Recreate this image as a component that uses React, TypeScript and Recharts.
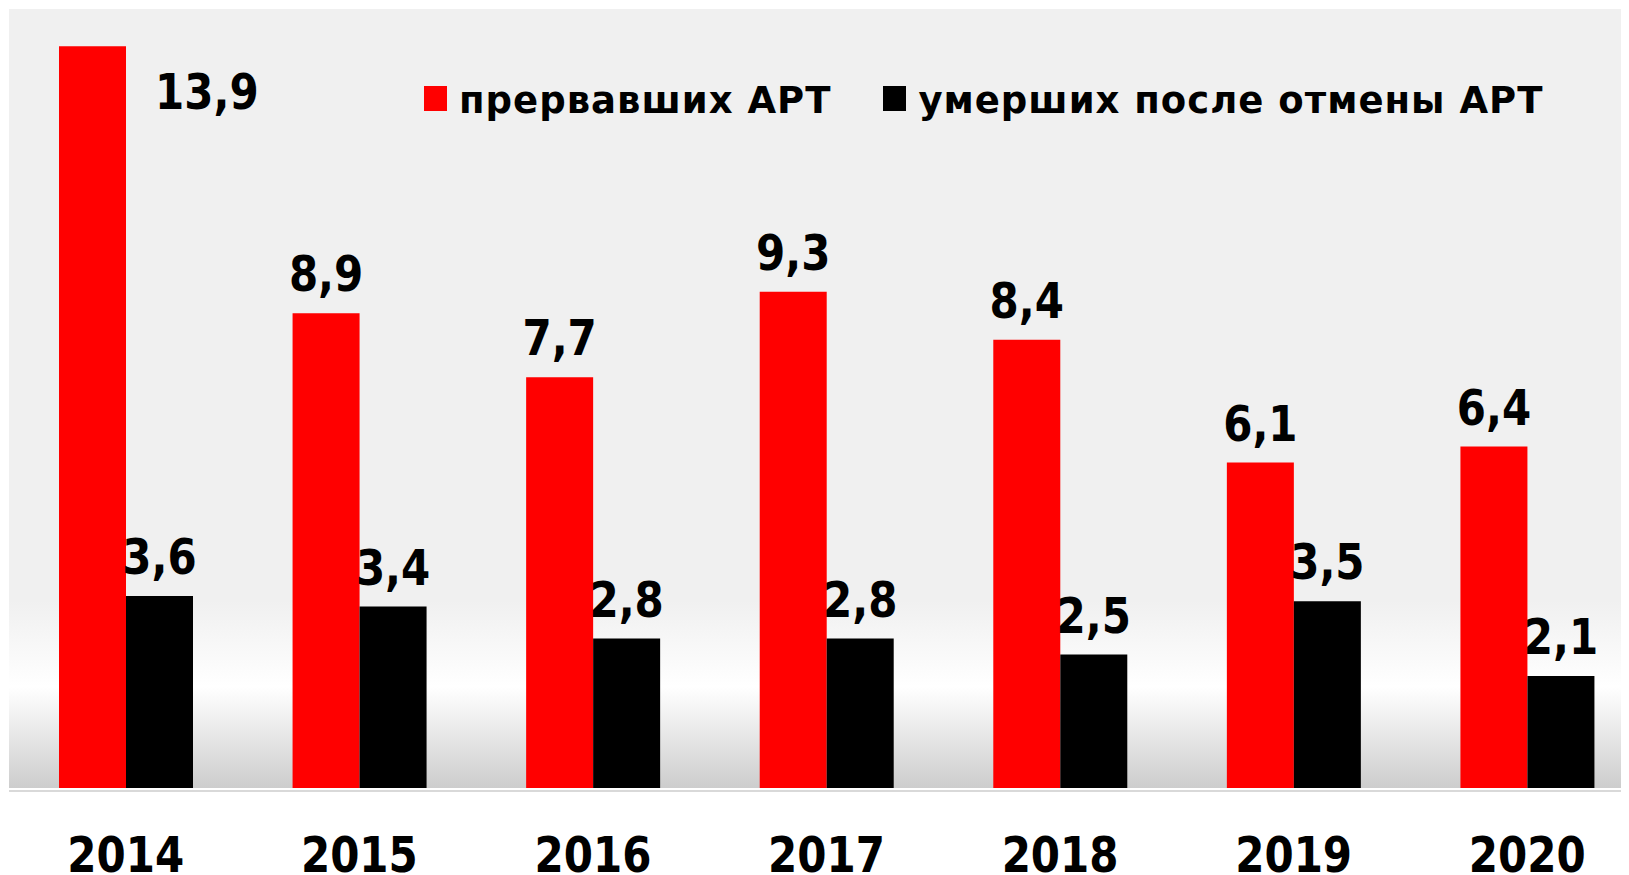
import { BarChart, Bar, XAxis, YAxis, Legend, LabelList, ReferenceArea } from "recharts";

const years = ["2014", "2015", "2016", "2017", "2018", "2019", "2020"];
const interrupted = [13.9, 8.9, 7.7, 9.3, 8.4, 6.1, 6.4];
const diedAfterStop = [3.6, 3.4, 2.8, 2.8, 2.5, 3.5, 2.1];
const seriesNames = ["прервавших АРТ", "умерших после отмены АРТ"];
const seriesColors = ["#ff0000", "#000000"];

const data = years.map((year, i) => ({
  year,
  interrupted: interrupted[i],
  died: diedAfterStop[i],
}));

const FONT = '"DejaVu Sans", Verdana, sans-serif';
const STRETCH = 1.2;

const fmt = (v: number) => String(v).replace(".", ",");

function ValueLabel(props: any) {
  const { x, y, width, value } = props;
  // no room above the tallest bar: put the number beside it
  if (y < 100) {
    return (
      <text
        transform={`translate(${x + width + 29},${y + 63}) scale(1,${STRETCH})`}
        fontFamily={FONT}
        fontWeight={700}
        fontSize={42}
        fill="#000"
        textAnchor="start"
      >
        {fmt(value)}
      </text>
    );
  }
  return (
    <text
      transform={`translate(${x + width / 2},${y - 22}) scale(1,${STRETCH})`}
      fontFamily={FONT}
      fontWeight={700}
      fontSize={42}
      fill="#000"
      textAnchor="middle"
    >
      {fmt(value)}
    </text>
  );
}

function YearTick(props: any) {
  const { x, y, payload } = props;
  return (
    <text
      transform={`translate(${x},${y + 81}) scale(1,${STRETCH})`}
      fontFamily={FONT}
      fontWeight={700}
      fontSize={42}
      fill="#000"
      textAnchor="middle"
    >
      {payload.value}
    </text>
  );
}

function LegendBox() {
  const square = (color: string, ml: number) => (
    <span
      style={{
        display: "inline-block",
        width: 23,
        height: 25,
        marginTop: 3,
        marginLeft: ml,
        marginRight: 12,
        background: color,
      }}
    />
  );
  return (
    <div
      style={{
        display: "flex",
        alignItems: "flex-start",
        fontFamily: FONT,
        fontWeight: 700,
        fontSize: 37,
        lineHeight: "35px",
        letterSpacing: 1.0,
        whiteSpace: "nowrap",
        color: "#000",
      }}
    >
      {square(seriesColors[0], 0)}
      <span>{seriesNames[0]}</span>
      {square(seriesColors[1], 52)}
      <span>{seriesNames[1]}</span>
    </div>
  );
}

export default function App() {
  return (
    <div style={{ width: 1621, height: 867, overflow: "hidden" }}>
      <BarChart
        width={1636}
        height={867}
        data={data}
        margin={{ top: 1, right: 0, bottom: 0, left: 1 }}
        barGap={0}
        barSize={67}
      >
        <defs>
          <linearGradient id="plotBg" x1="0" y1="0" x2="0" y2="1">
            <stop offset="0" stopColor="#f0f0f0" />
            <stop offset="0.76" stopColor="#f0f0f0" />
            <stop offset="0.87" stopColor="#ffffff" />
            <stop offset="1" stopColor="#cdcdcd" />
          </linearGradient>
        </defs>
        <XAxis
          dataKey="year"
          height={84}
          interval={0}
          tickLine={false}
          tickSize={0}
          tickMargin={0}
          axisLine={{ stroke: "#d9d9d9", strokeWidth: 2 }}
          tick={<YearTick />}
        />
        <YAxis hide domain={[0, 14.6]} padding={{ top: 0, bottom: 3 }} />
        <ReferenceArea y1={0} y2={14.6} fill="url(#plotBg)" fillOpacity={1} stroke="none" />
        <Legend
          layout="horizontal"
          verticalAlign="middle"
          align="center"
          wrapperStyle={{ top: 75, left: 416, width: "auto", height: "auto" }}
          content={<LegendBox />}
        />
        <Bar dataKey="interrupted" name={seriesNames[0]} fill={seriesColors[0]} isAnimationActive={false}>
          <LabelList dataKey="interrupted" content={<ValueLabel />} />
        </Bar>
        <Bar dataKey="died" name={seriesNames[1]} fill={seriesColors[1]} isAnimationActive={false}>
          <LabelList dataKey="died" content={<ValueLabel />} />
        </Bar>
      </BarChart>
    </div>
  );
}
